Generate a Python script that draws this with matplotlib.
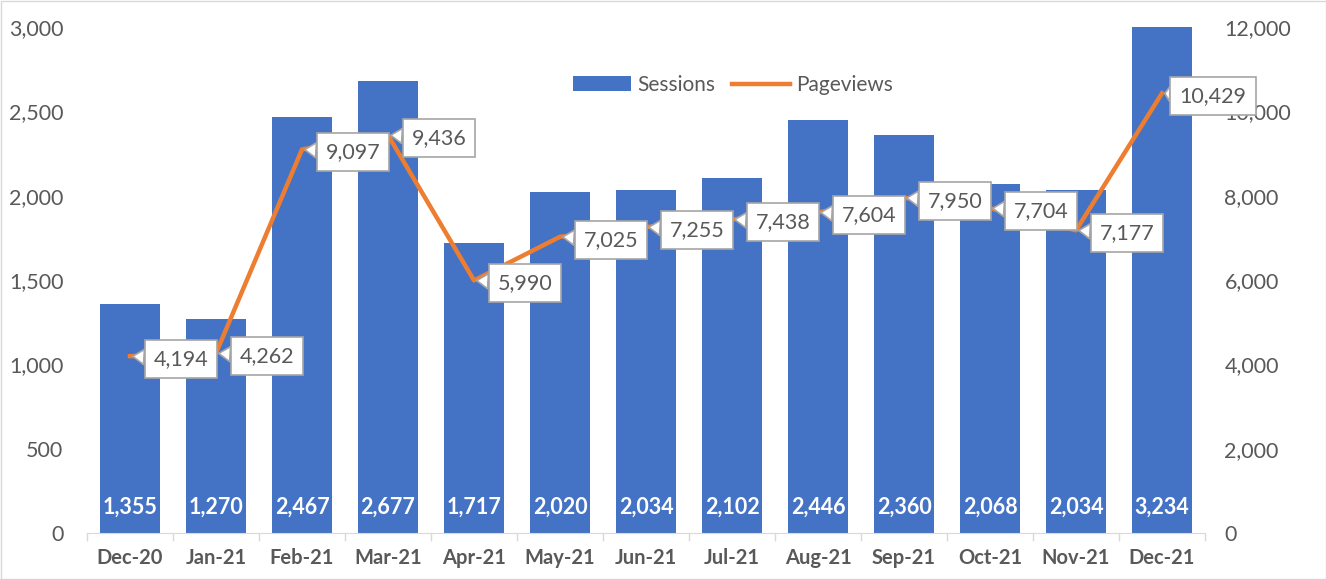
import matplotlib
matplotlib.use("Agg")
import matplotlib.pyplot as plt
from matplotlib.ticker import FuncFormatter, FixedLocator
from matplotlib.patches import Rectangle

months = ["Dec-20", "Jan-21", "Feb-21", "Mar-21", "Apr-21", "May-21", "Jun-21",
          "Jul-21", "Aug-21", "Sep-21", "Oct-21", "Nov-21", "Dec-21"]
sessions = [1355, 1270, 2467, 2677, 1717, 2020, 2034, 2102, 2446, 2360, 2068, 2034, 3234]
pageviews = [4194, 4262, 9097, 9436, 5990, 7025, 7255, 7438, 7604, 7950, 7704, 7177, 10429]

plt.rcParams['font.family'] = ['Lato', 'DejaVu Sans']
TXT = "#595959"
BLUE = "#4472C4"
ORANGE = "#ED7D31"

fig = plt.figure(figsize=(13.26, 5.79), dpi=100)
ax = fig.add_axes([87/1326, 1-533/579, (1205-87)/1326, (533-27)/579])
ax2 = ax.twinx()

x = list(range(len(months)))
bars = ax.bar(x, sessions, width=0.7, color=BLUE, label="Sessions", zorder=2)
ax.set_xlim(-0.5, len(months)-0.5)
ax.set_ylim(0, 3000)
ax.yaxis.set_major_locator(FixedLocator([0, 500, 1000, 1500, 2000, 2500, 3000]))
ax.yaxis.set_major_formatter(FuncFormatter(lambda v, p: f"{int(v):,}"))
ax.set_xticks(x)
ax.set_xticklabels(months, fontsize=14.5, fontweight='bold', color=TXT)
ax.set_xticks([i + 0.5 for i in range(-1, len(months))], minor=True)
ax.tick_params(axis='x', which='major', length=0, pad=11)
ax.tick_params(axis='x', which='minor', length=6, color="#D9D9D9", width=1)
ax.tick_params(axis='y', length=0, labelsize=15.5, labelcolor=TXT, pad=17)
for s in ["top", "right", "left"]:
    ax.spines[s].set_visible(False)
ax.spines["bottom"].set_color("#D9D9D9")

for i, v in enumerate(sessions):
    ax.text(i, 150, f"{v:,}", ha='center', va='center', color='white',
            fontsize=15.5, fontweight='bold', zorder=3)

line, = ax2.plot(x, pageviews, color=ORANGE, lw=3.2, label="Pageviews",
                 solid_joinstyle='round', zorder=4)
ax2.set_ylim(0, 12000)
ax2.yaxis.set_major_locator(FixedLocator(list(range(0, 12001, 2000))))
ax2.yaxis.set_major_formatter(FuncFormatter(lambda v, p: f"{int(v):,}"))
ax2.tick_params(axis='y', length=0, labelsize=15.5, labelcolor=TXT, pad=14)
for s in ["top", "right", "left", "bottom"]:
    ax2.spines[s].set_visible(False)

ax.set_zorder(1)
ax2.set_zorder(2)
ax.patch.set_visible(False)

for i, v in enumerate(pageviews):
    ax2.annotate(f"{v:,}", xy=(i, v), xytext=(51, -3), textcoords='offset pixels',
                 ha='center', va='center', fontsize=15.5, color=TXT,
                 bbox=dict(boxstyle='square,pad=0.42', fc='white', ec='#A6A6A6', lw=1.2),
                 arrowprops=dict(arrowstyle='wedge,tail_width=0.7,shrink_factor=0.5',
                                 fc='white', ec='#A6A6A6', lw=1.2, shrinkA=0, shrinkB=2),
                 zorder=5)

ax2.legend([bars, line], ["Sessions", "Pageviews"], loc='center',
           bbox_to_anchor=(733/1326, 1-85/579), bbox_transform=fig.transFigure,
           ncol=2, frameon=False, fontsize=15, labelcolor=TXT,
           handlelength=2.8, columnspacing=0.8, handletextpad=0.3)

fig.patches.append(Rectangle((0.5/1326, 0.5/579), 1-1/1326, 1-1/579,
                             transform=fig.transFigure, fill=False,
                             ec="#D9D9D9", lw=1))

fig.savefig("out.png", dpi=100)
